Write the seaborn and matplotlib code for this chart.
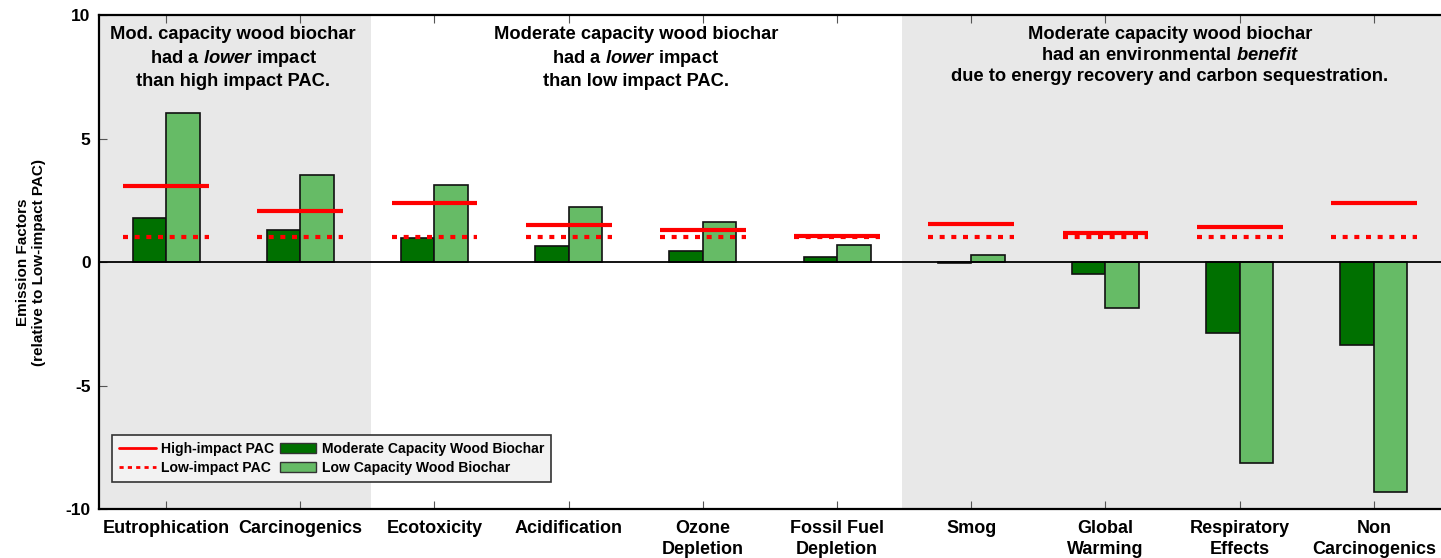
import numpy as np
import pandas as pd
import matplotlib
matplotlib.use("Agg")
import matplotlib.pyplot as plt
import seaborn as sns
from matplotlib.lines import Line2D
from matplotlib.patches import Patch

categories = ["Eutrophication", "Carcinogenics", "Ecotoxicity", "Acidification",
              "Ozone\nDepletion", "Fossil Fuel\nDepletion", "Smog", "Global\nWarming",
              "Respiratory\nEffects", "Non\nCarcinogenics"]
moderate_biochar = [1.78, 1.3, 0.98, 0.65, 0.45, 0.2, -0.05, -0.5, -2.88, -3.37]
low_biochar = [6.03, 3.52, 3.12, 2.23, 1.62, 0.7, 0.3, -1.88, -8.15, -9.3]
high_pac = [3.08, 2.06, 2.4, 1.5, 1.3, 1.07, 1.55, 1.18, 1.4, 2.38]
low_pac = [1.0] * 10
series_names = ["Moderate Capacity Wood Biochar", "Low Capacity Wood Biochar"]
yticks = [-10, -5, 0, 5, 10]

sns.set_theme(style="white")
plt.rcParams["font.family"] = ["Liberation Sans", "DejaVu Sans"]
plt.rcParams["mathtext.fontset"] = "custom"
plt.rcParams["mathtext.it"] = "Liberation Sans:italic:bold"
plt.rcParams["mathtext.rm"] = "Liberation Sans:bold"
plt.rcParams["text.color"] = "black"
plt.rcParams["axes.labelcolor"] = "black"
plt.rcParams["xtick.color"] = "black"
plt.rcParams["ytick.color"] = "black"

df = pd.DataFrame({
    "category": categories * 2,
    "value": moderate_biochar + low_biochar,
    "series": [series_names[0]] * 10 + [series_names[1]] * 10,
})

dark = "#007000"
light = "#66bb66"
gray = "#e8e8e8"

fig = plt.figure(figsize=(14.41, 5.58), dpi=100)
ax = fig.add_axes([0.0687, 0.0878, 0.9313, 0.8852])

ax.axvspan(-0.5, 1.53, color=gray, zorder=0, lw=0)
ax.axvspan(5.48, 9.5, color=gray, zorder=0, lw=0)

sns.barplot(data=df, x="category", y="value", hue="series", order=categories,
            hue_order=series_names, palette=[dark, light], width=0.5, saturation=1,
            edgecolor="#111111", linewidth=1.2, ax=ax, legend=False, zorder=2)

xs = np.arange(len(categories))
ax.hlines(high_pac, xs - 0.32, xs + 0.32, colors="#ff0000", lw=3, zorder=4)
ax.hlines(low_pac, xs - 0.32, xs + 0.32, colors="#ff0000", lw=3,
          linestyles=[(0, (1.2, 1.6))], zorder=4)

ax.axhline(0, color="black", lw=1.3, zorder=3)
ax.set_xlim(-0.5, 9.5)
ax.set_ylim(-10, 10)
ax.set_yticks(yticks)
ax.set_yticklabels([str(t) for t in yticks], fontsize=12.5, fontweight="bold")
ax.set_xticks(xs)
ax.set_xticklabels(categories, fontsize=13, fontweight="bold", linespacing=1.3)
ax.tick_params(axis="x", direction="in", length=6, width=0.8, color="#555555",
               top=True, bottom=True, pad=8)
ax.tick_params(axis="y", direction="in", length=6, width=0.8, color="#555555",
               left=True, right=False, pad=6)
ax.set_xlabel("")
ax.set_ylabel("Emission Factors\n(relative to Low-impact PAC)", fontsize=11,
              fontweight="bold", labelpad=14)
for s in ["top", "bottom", "left"]:
    ax.spines[s].set_color("black")
    ax.spines[s].set_linewidth(1.6)
ax.spines["right"].set_visible(False)

kw = dict(ha="center", va="top", fontsize=13.2, fontweight="bold", linespacing=1.3, zorder=5)
ax.text(0.5, 9.55, "Mod. capacity wood biochar\nhad a $\\mathit{lower}$ impact\nthan high impact PAC.", **kw)
ax.text(3.5, 9.55, "Moderate capacity wood biochar\nhad a $\\mathit{lower}$ impact\nthan low impact PAC.", **kw)
ax.text(7.48, 9.55, "Moderate capacity wood biochar\nhad an environmental $\\mathit{benefit}$\ndue to energy recovery and carbon sequestration.", **kw)

handles = [Line2D([], [], color="#ff0000", lw=2),
           Line2D([], [], color="#ff0000", lw=2, ls=(0, (1.5, 1.5))),
           Patch(facecolor=dark, edgecolor="#333333"),
           Patch(facecolor=light, edgecolor="#333333")]
labels = ["High-impact PAC", "Low-impact PAC", series_names[0], series_names[1]]
leg = ax.legend(handles, labels, ncol=2, loc="lower left", bbox_to_anchor=(0.0097, 0.055),
                borderaxespad=0,
                prop={"size": 10.1, "weight": "bold"}, frameon=True, fancybox=False,
                framealpha=1, facecolor="#f2f2f2", edgecolor="#333333",
                handlelength=2.6, handletextpad=0.4, columnspacing=0.4,
                borderpad=0.5, labelspacing=0.35)
leg.get_frame().set_linewidth(1.2)

fig.savefig("out.png", dpi=100)
